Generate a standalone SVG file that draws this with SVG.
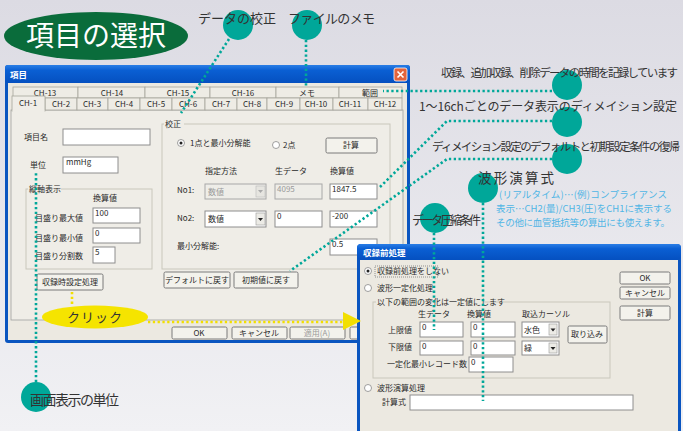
<svg xmlns="http://www.w3.org/2000/svg" width="683" height="431" viewBox="0 0 683 431">
<defs>
<linearGradient id="bg" x1="0" y1="0" x2="0" y2="1"><stop offset="0" stop-color="#dcdbe3"/><stop offset="1" stop-color="#f1f1f4"/></linearGradient>
<linearGradient id="tb" x1="0" y1="0" x2="0" y2="1"><stop offset="0" stop-color="#2a7ee6"/><stop offset="0.3" stop-color="#0a5fd3"/><stop offset="1" stop-color="#0550c0"/></linearGradient>
<style>
.ui{font-family:"Noto Sans CJK JP","Noto Sans",sans-serif;font-size:8px;fill:#2a2a2a}
.uc{font-family:"Noto Sans CJK JP","Noto Sans",sans-serif;font-size:8px;fill:#2a2a2a;text-anchor:middle}
.gray{fill:#9a9a9a}
.tt{font-family:"Noto Sans CJK JP","Noto Sans",sans-serif;font-size:8.5px;font-weight:bold;fill:#fff}
.box{fill:#fff;stroke:#8e8e8e;stroke-width:1}
.dis{fill:#eeede8;stroke:#a8a8a8;stroke-width:1}
.btn{fill:#f3f2ec;stroke:#7a7a7a;stroke-width:1}
.tab{fill:#eeece5;stroke:#a6a59c;stroke-width:0.8}
.grp{fill:none;stroke:#c9c7bc;stroke-width:1}
.ann{font-family:"Noto Sans CJK JP","Noto Sans",sans-serif;fill:#333}
.blue{font-family:"Noto Sans CJK JP","Noto Sans",sans-serif;font-size:9.5px;fill:#4fb5e5}
.dot{fill:#00a799}
.con{fill:none;stroke:#00a799;stroke-width:2.6;stroke-dasharray:2.3 2.5}
.ycon{fill:none;stroke:#f2df00;stroke-width:2.6;stroke-dasharray:2.3 2.5}
</style>
</defs>
<rect width="683" height="431" fill="url(#bg)"/>

<g id="title-node">
<ellipse cx="96" cy="36" rx="92" ry="24" fill="#0a6c3b"/>
<text x="96" y="46" text-anchor="middle" font-family="Noto Sans CJK JP,sans-serif" font-size="28" fill="#fff">項目の選択</text>
</g>

<g id="main-dialog">
<rect x="5" y="65" width="405" height="278" rx="3" fill="#0a55c0"/>
<rect x="5" y="65" width="405" height="18" rx="3" fill="url(#tb)"/>
<text class="tt" x="10" y="78">項目</text>
<rect x="394" y="68" width="13" height="13" rx="2" fill="#e2643c" stroke="#fff" stroke-width="0.8"/>
<path d="M397.5 71.5 L403.5 77.5 M403.5 71.5 L397.5 77.5" stroke="#fff" stroke-width="1.6"/>
<rect x="8" y="83" width="399" height="257" fill="#ece9e1"/>
<rect x="11" y="110" width="392" height="210" fill="#efede7" stroke="#a0a0a0" stroke-width="0.8"/>
<g>
<rect class="tab" x="13" y="87" width="65" height="11"/><rect class="tab" x="78" y="87" width="67" height="11"/>
<rect class="tab" x="145" y="87" width="65" height="11"/><rect class="tab" x="210" y="87" width="66" height="11"/>
<rect class="tab" x="276" y="87" width="63" height="11"/><rect class="tab" x="339" y="87" width="63" height="11"/>
<text class="uc" x="45" y="96">CH-13</text><text class="uc" x="112" y="96">CH-14</text><text class="uc" x="178" y="96">CH-15</text>
<text class="uc" x="243" y="96">CH-16</text><text class="uc" x="307" y="96">メモ</text><text class="uc" x="370" y="96">範囲</text>
<rect class="tab" x="45" y="98" width="32" height="12"/><rect class="tab" x="77" y="98" width="31" height="12"/>
<rect class="tab" x="108" y="98" width="32" height="12"/><rect class="tab" x="140" y="98" width="32" height="12"/>
<rect class="tab" x="172" y="98" width="33" height="12"/><rect class="tab" x="205" y="98" width="32" height="12"/>
<rect class="tab" x="237" y="98" width="30" height="12"/><rect class="tab" x="267" y="98" width="33" height="12"/>
<rect class="tab" x="300" y="98" width="33" height="12"/><rect class="tab" x="333" y="98" width="35" height="12"/>
<rect class="tab" x="368" y="98" width="34" height="12"/>
<rect x="12" y="96" width="33" height="15" fill="#efede7" stroke="#a6a59c" stroke-width="0.8"/>
<rect x="12.5" y="110" width="32" height="2" fill="#efede7"/>
<text class="uc" x="28" y="106">CH-1</text><text class="uc" x="61" y="107">CH-2</text><text class="uc" x="92" y="107">CH-3</text>
<text class="uc" x="124" y="107">CH-4</text><text class="uc" x="156" y="107">CH-5</text><text class="uc" x="188" y="107">CH-6</text>
<text class="uc" x="221" y="107">CH-7</text><text class="uc" x="252" y="107">CH-8</text><text class="uc" x="284" y="107">CH-9</text>
<text class="uc" x="316" y="107">CH-10</text><text class="uc" x="350" y="107">CH-11</text><text class="uc" x="385" y="107">CH-12</text>
</g>
<text class="ui" x="24" y="140">項目名</text>
<rect class="box" x="63" y="129" width="87" height="16"/>
<text class="ui" x="30" y="168">単位</text>
<rect class="box" x="63" y="157" width="55" height="16"/>
<text class="ui" x="66" y="165">mmHg</text>
<rect class="grp" x="26" y="189" width="126" height="80"/>
<rect x="28" y="185" width="33" height="8" fill="#efede7"/>
<text class="ui" x="29" y="192">縦軸表示</text>
<text class="ui" x="93" y="201">換算値</text>
<text class="ui" x="35" y="221">目盛り最大値</text>
<rect class="box" x="93" y="208" width="47" height="15"/><text class="ui" x="95" y="216">100</text>
<text class="ui" x="35" y="241">目盛り最小値</text>
<rect class="box" x="93" y="228" width="47" height="15"/><text class="ui" x="95" y="236">0</text>
<text class="ui" x="35" y="259">目盛り分割数</text>
<rect class="box" x="93" y="247" width="22" height="16"/><text class="ui" x="95" y="255">5</text>
<rect class="btn" x="37" y="274" width="66" height="16" rx="1.5"/>
<text class="uc" x="70" y="285">収録時設定処理</text>

<rect class="grp" x="162" y="124" width="228" height="145"/>
<rect x="164" y="120" width="20" height="8" fill="#efede7"/>
<text class="ui" x="165" y="127">校正</text>
<circle cx="181" cy="143" r="3.5" fill="#fff" stroke="#888" stroke-width="0.8"/><circle cx="181" cy="143" r="1.5" fill="#222"/>
<text class="ui" x="190" y="146">1点と最小分解能</text>
<circle cx="276" cy="145" r="3.5" fill="#fff" stroke="#888" stroke-width="0.8"/>
<text class="ui" x="283" y="148">2点</text>
<rect class="btn" x="326" y="138" width="51" height="15" rx="1.5"/>
<text class="uc" x="351" y="148">計算</text>
<text class="ui" x="205" y="174">指定方法</text><text class="ui" x="275" y="174">生データ</text><text class="ui" x="330" y="174">換算値</text>
<text class="ui" x="177" y="193">No1:</text>
<rect class="dis" x="205" y="184" width="61" height="15"/><rect x="256" y="186" width="9" height="11" fill="#e6e5e0" stroke="#bbb" stroke-width="0.6"/>
<path d="M258 190 L263 190 L260.5 193 Z" fill="#aaa"/>
<text class="ui gray" x="208" y="195">数値</text>
<rect class="dis" x="275" y="184" width="47" height="15"/><text class="ui gray" x="277" y="192">4095</text>
<rect class="box" x="330" y="184" width="47" height="15"/><text class="ui" x="332" y="192">1847.5</text>
<text class="ui" x="177" y="221">No2:</text>
<rect class="box" x="205" y="211" width="61" height="16"/><rect x="256" y="213" width="9" height="12" fill="#ecebe6" stroke="#999" stroke-width="0.6"/>
<path d="M258 218 L263 218 L260.5 221 Z" fill="#222"/>
<text class="ui" x="208" y="222">数値</text>
<rect class="box" x="275" y="211" width="47" height="16"/><text class="ui" x="277" y="219">0</text>
<rect class="box" x="330" y="211" width="47" height="16"/><text class="ui" x="332" y="219">-200</text>
<text class="ui" x="177" y="249">最小分解能:</text>
<rect class="box" x="330" y="239" width="47" height="16"/><text class="ui" x="332" y="247">0.5</text>
<rect class="btn" x="164" y="272" width="66" height="16" rx="1.5"/><text class="uc" x="197" y="283">デフォルトに戻す</text>
<rect class="btn" x="234" y="272" width="64" height="16" rx="1.5"/><text class="uc" x="266" y="283">初期値に戻す</text>
<rect class="btn" x="172" y="327" width="55" height="12" rx="1.5"/><text class="uc" x="199" y="336">OK</text>
<rect class="btn" x="232" y="327" width="55" height="12" rx="1.5"/><text class="uc" x="259" y="336">キャンセル</text>
<rect class="btn" x="290" y="327" width="55" height="12" rx="1.5"/><text class="uc gray" x="317" y="336">適用(A)</text>
<rect class="btn" x="350" y="327" width="40" height="12" rx="1.5"/>
</g>

<g id="pre-dialog">
<rect x="357" y="244" width="324" height="192" rx="4" fill="#0a55c0"/>
<rect x="357" y="244" width="324" height="16" rx="4" fill="url(#tb)"/>
<text class="tt" x="363" y="256">収録前処理</text>
<rect x="360" y="260" width="318" height="176" fill="#ece9e1"/>
<circle cx="368" cy="271" r="3.5" fill="#fff" stroke="#888" stroke-width="0.8"/><circle cx="368" cy="271" r="1.5" fill="#222"/>
<rect x="375" y="266" width="63" height="11" fill="none" stroke="#555" stroke-width="0.6" stroke-dasharray="1 1"/>
<text class="ui" x="377" y="274">収録前処理をしない</text>
<circle cx="368" cy="288" r="3.5" fill="#fff" stroke="#888" stroke-width="0.8"/>
<text class="ui" x="377" y="291">波形一定化処理</text>
<rect class="grp" x="373" y="302" width="237" height="76"/>
<rect x="376" y="297" width="108" height="9" fill="#ece9e1"/>
<text class="ui" x="377" y="305">以下の範囲の変化は一定値にします</text>
<text class="ui" x="418" y="317">生データ</text><text class="ui" x="467" y="317">換算値</text><text class="ui" x="522" y="317">取込カーソル</text>
<text class="ui" x="388" y="333">上限値</text>
<rect class="box" x="420" y="322" width="43" height="15"/><text class="ui" x="422" y="330">0</text>
<rect class="box" x="471" y="322" width="44" height="15"/><text class="ui" x="473" y="330">0</text>
<rect class="box" x="522" y="322" width="37" height="15"/><text class="ui" x="524" y="333">水色</text>
<rect x="549" y="324" width="8" height="11" fill="#ecebe6" stroke="#999" stroke-width="0.6"/><path d="M550.5 328.5 L555.5 328.5 L553 331.5 Z" fill="#222"/>
<rect class="btn" x="568" y="326" width="39" height="17" rx="1.5"/><text class="uc" x="587" y="337">取り込み</text>
<text class="ui" x="388" y="350">下限値</text>
<rect class="box" x="420" y="341" width="43" height="14"/><text class="ui" x="422" y="349">0</text>
<rect class="box" x="471" y="341" width="44" height="14"/><text class="ui" x="473" y="349">0</text>
<rect class="box" x="522" y="341" width="37" height="14"/><text class="ui" x="524" y="351">緑</text>
<rect x="549" y="343" width="8" height="10" fill="#ecebe6" stroke="#999" stroke-width="0.6"/><path d="M550.5 347 L555.5 347 L553 350 Z" fill="#222"/>
<text class="ui" x="387" y="367">一定化最小レコード数</text>
<rect class="box" x="469" y="357" width="44" height="15"/><text class="ui" x="471" y="365">0</text>
<circle cx="368" cy="388" r="3.5" fill="#fff" stroke="#888" stroke-width="0.8"/>
<text class="ui" x="377" y="391">波形演算処理</text>
<text class="ui" x="382" y="405">計算式</text>
<rect class="box" x="410" y="395" width="223" height="15"/>
<rect class="btn" x="620" y="272" width="50" height="12" rx="1.5"/><text class="uc" x="645" y="281">OK</text>
<rect class="btn" x="620" y="287" width="50" height="12" rx="1.5"/><text class="uc" x="645" y="296">キャンセル</text>
<rect class="btn" x="620" y="306" width="50" height="14" rx="1.5"/><text class="uc" x="645" y="316">計算</text>
</g>

<g id="connectors">
<path class="con" d="M229 39 L181 113"/>
<path class="con" d="M306 40 L306 86"/>
<path class="con" d="M552 91 L383 91"/>
<path class="con" d="M552 121 L447 121 L379 188"/>
<path class="con" d="M552 159 L447 159 L290 271"/>
<path class="con" d="M483 203 L483 401"/>
<path class="con" d="M434 233 L434 330"/>
<path class="con" d="M36 382 L36 172"/>
<path class="ycon" d="M72 292 L72 306"/>
<path class="ycon" d="M148 322 L345 322"/>
<polygon points="343,312 361,321 343,330" fill="#f2df00"/>
</g>

<g id="click-node">
<ellipse cx="95" cy="317" rx="53" ry="11.5" fill="#f5e400"/>
<text x="95" y="322" text-anchor="middle" font-family="Noto Sans CJK JP,sans-serif" font-size="13" fill="#333" letter-spacing="1">クリック</text>
</g>

<g id="ann-calib"><circle class="dot" cx="238" cy="25" r="15"/><text class="ann" x="198" y="23" font-size="13" textLength="78">データの校正</text></g>
<g id="ann-memo"><circle class="dot" cx="307" cy="25" r="15"/><text class="ann" x="288" y="23" font-size="13" textLength="87">ファイルのメモ</text></g>
<g id="ann-range"><circle class="dot" cx="567" cy="85" r="15"/><text class="ann" x="441" y="77" font-size="11.5" textLength="237">収録、追加収録、削除データの時間を記録しています</text></g>
<g id="ann-dim"><circle class="dot" cx="567" cy="122" r="15"/><text class="ann" x="419" y="111" font-size="12" textLength="258">1〜16chごとのデータ表示のディメイション設定</text></g>
<g id="ann-default"><circle class="dot" cx="567" cy="159" r="15"/><text class="ann" x="432" y="151" font-size="11.5" textLength="248">ディメイション設定のデフォルトと初期設定条件の復帰</text></g>
<g id="ann-wave"><circle class="dot" cx="483" cy="188" r="15"/><text class="ann" x="478" y="183" font-size="13.5" textLength="76">波形演算式</text>
<text class="blue" x="499" y="198" textLength="168">(リアルタイム)…(例)コンプライアンス</text>
<text class="blue" x="496" y="212" textLength="176">表示…CH2(量)/CH3(圧)をCH1に表示する</text>
<text class="blue" x="496" y="226" textLength="174">その他に血管抵抗等の算出にも使えます。</text></g>
<g id="ann-compress"><circle class="dot" cx="435" cy="218" r="15"/><text class="ann" x="412" y="225" font-size="12" textLength="69">データ圧縮条件</text></g>
<g id="ann-unit"><circle class="dot" cx="36" cy="397" r="15"/><text class="ann" x="30" y="405" font-size="14" textLength="89">画面表示の単位</text></g>
</svg>
